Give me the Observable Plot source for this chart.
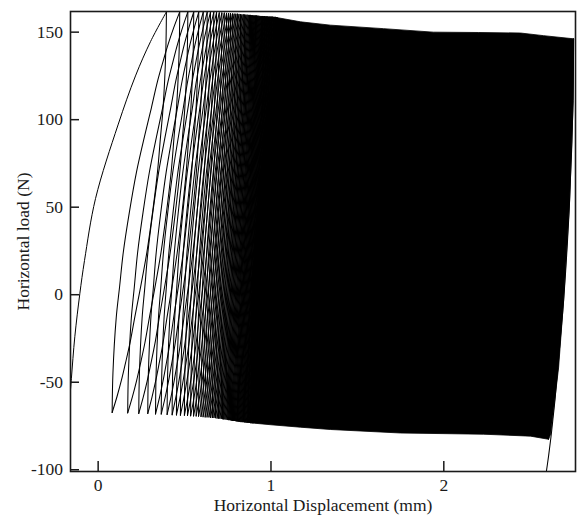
<!DOCTYPE html>
<html>
<head>
<meta charset="utf-8">
<script src="https://cdn.jsdelivr.net/npm/d3@7"></script>
<script src="https://cdn.jsdelivr.net/npm/@observablehq/plot@0.6"></script>
<style>
  html, body { margin: 0; padding: 0; background: #fff; }
  #chart { position: absolute; left: 0; top: 0; }
  #chart svg, #chart svg text {
    font-family: "Liberation Serif", "Times New Roman", "DejaVu Serif", serif !important;
  }
</style>
</head>
<body>
<div id="chart"></div>
<script>
// Cyclic horizontal load test: load (N) against displacement (mm).

// First monotonic loading, from the start of the test up to the first peak.
const initialDisp = [-0.166, -0.155, -0.135, -0.106, -0.079, -0.015, 0.115, 0.216, 0.303, 0.395];
const initialLoad = [-62, -48, -24, 0.6, 19.5, 55, 97, 125, 144.6, 161.6];

// Resolved cycles: displacement and load at each peak and at the following trough.
const peakDisp = [
  0.395, 0.472, 0.519, 0.553, 0.582, 0.608, 0.631, 0.650, 0.669, 0.685,
  0.701, 0.716, 0.730, 0.743, 0.755, 0.766, 0.777, 0.787, 0.797, 0.806,
  0.815, 0.824, 0.832, 0.840, 0.848, 0.855, 0.862, 0.869, 0.876, 0.882,
  0.888, 0.894, 0.900, 0.906, 0.911, 0.916, 0.921, 0.926, 0.931, 0.936,
  0.941, 0.946, 0.951, 0.955, 0.959, 0.963, 0.967, 0.971, 0.975, 0.979,
  0.983, 0.987, 0.991, 0.995, 0.999, 1.003, 1.007, 1.011, 1.015, 1.019,
  1.023, 1.027, 1.031, 1.035
];
const peakLoad = [
  161.6, 161.6, 161.6, 161.5, 161.5, 161.5, 161.4, 161.4, 161.3, 161.2,
  161.1, 161.0, 160.9, 160.8, 160.7, 160.6, 160.5, 160.4, 160.3, 160.3,
  160.2, 160.1, 160.0, 160.0, 159.9, 159.8, 159.8, 159.7, 159.6, 159.6,
  159.5, 159.5, 159.4, 159.4, 159.3, 159.3, 159.2, 159.2, 159.1, 159.1,
  159.0, 159.0, 159.0, 158.9, 158.9, 158.9, 158.8, 158.8, 158.8, 158.8,
  158.7, 158.7, 158.7, 158.7, 158.6, 158.6, 158.6, 158.6, 158.5, 158.5,
  158.5, 158.5, 158.4, 158.4
];
const troughDisp = [
  0.081, 0.171, 0.235, 0.287, 0.332, 0.365, 0.399, 0.428, 0.453, 0.476,
  0.499, 0.517, 0.535, 0.552, 0.567, 0.581, 0.595, 0.607, 0.619, 0.630,
  0.641, 0.651, 0.661, 0.670, 0.679, 0.688, 0.696, 0.704, 0.712, 0.719,
  0.726, 0.733, 0.740, 0.747, 0.753, 0.759, 0.765, 0.771, 0.777, 0.783,
  0.789, 0.795, 0.801, 0.806, 0.811, 0.816, 0.821, 0.826, 0.831, 0.836,
  0.841, 0.846, 0.851, 0.856, 0.861, 0.865, 0.869, 0.873, 0.877, 0.881,
  0.885, 0.889, 0.893, 0.897
];
const troughLoad = [
  -67.3, -67.5, -67.8, -67.9, -68.1, -68.2, -68.4, -68.6, -68.7, -68.8,
  -68.9, -69.0, -69.2, -69.3, -69.3, -69.4, -69.6, -69.7, -69.8, -69.8,
  -69.9, -70.1, -70.2, -70.2, -70.3, -70.5, -70.6, -70.6, -70.7, -70.9,
  -71.0, -71.0, -71.1, -71.3, -71.4, -71.4, -71.5, -71.7, -71.8, -71.8,
  -71.9, -72.0, -72.1, -72.2, -72.3, -72.4, -72.4, -72.5, -72.5, -72.6,
  -72.6, -72.7, -72.7, -72.8, -72.8, -72.9, -72.9, -73.0, -73.0, -73.1,
  -73.1, -73.2, -73.2, -73.3
];

// Branch shape of a half cycle (fraction of load change vs fraction of
// displacement change), taken from the first loading curve.
const shapeLoadFrac = [0, 0.1, 0.236, 0.314, 0.4, 0.5, 0.6, 0.694, 0.76, 0.827, 0.88, 0.92, 0.96, 1];
const shapeDispFrac = [0, 0.012, 0.06, 0.11, 0.165, 0.255, 0.36, 0.486, 0.58, 0.672, 0.76, 0.83, 0.91, 1];

// Outline of the region where the later cycles overlap completely.
const bandDisp = [1.030, 1.171, 1.344, 1.651, 1.940, 2.200, 2.444, 2.577, 2.751,
                  2.749, 2.728, 2.693, 2.664, 2.618, 2.606,
                  2.502, 2.230, 1.749, 1.344, 1.171, 1.000, 0.893,
                  0.885, 0.890, 0.925, 0.985];
const bandLoad = [158.4, 155.9, 154.0, 152.0, 150.0, 149.8, 149.5, 148.0, 146.2,
                  110.8, 53.4, -3.4, -41.8, -79.7, -82.6,
                  -80.8, -79.7, -79.0, -77.0, -75.7, -74.3, -73.3,
                  -40, 0, 53, 110.8];

// Last cycle: final reloading and the closing unloading.
const lastDisp = [2.606, 2.751, 2.592];
const lastLoad = [-82.6, 146.2, -102];

const xTicks = [0, 1, 2];
const yTicks = [150, 100, 50, 0, -50, -100];

// One half cycle between two turning points, following the half-cycle shape.
// Loading leaves the trough steeply; unloading leaves the peak steeply.
function branch(id, x0, y0, x1, y1, rising) {
  return shapeLoadFrac.map((u, k) => {
    const v = shapeDispFrac[k];
    return rising
      ? {id, disp: x0 + v * (x1 - x0), load: y0 + u * (y1 - y0)}
      : {id, disp: x0 - v * (x0 - x1), load: y0 - u * (y0 - y1)};
  });
}

const branches = [];
peakDisp.forEach((xp, i) => {
  if (i > 0) branches.push(...branch(`L${i}`, troughDisp[i - 1], troughLoad[i - 1], xp, peakLoad[i], true));
  branches.push(...branch(`U${i}`, xp, peakLoad[i], troughDisp[i], troughLoad[i], false));
});
branches.push(...branch("Llast", lastDisp[0], lastLoad[0], lastDisp[1], lastLoad[1], true));
branches.push(...branch("Ulast", lastDisp[1], lastLoad[1], lastDisp[2], lastLoad[2], false));

const initial = initialDisp.map((d, i) => ({disp: d, load: initialLoad[i]}));
const band = bandDisp.map((d, i) => ({disp: d, load: bandLoad[i]}));

const fmt = d => String(d);

const chart = Plot.plot({
  width: 577,
  height: 515,
  marginLeft: 70,
  marginRight: 2,
  marginTop: 11,
  marginBottom: 44,
  style: {
    fontFamily: "'Liberation Serif', 'Times New Roman', serif",
    fontSize: "17.5px",
    color: "#1a1a1a",
    background: "#fff"
  },
  x: {domain: [-0.16, 2.762]},
  y: {domain: [-101, 161.8]},
  marks: [
    Plot.line(band, {x: "disp", y: "load", fill: "black", stroke: "black", strokeWidth: 0.8, curve: "linear-closed", clip: true}),
    Plot.line(initial, {x: "disp", y: "load", stroke: "black", strokeWidth: 1, curve: "catmull-rom", clip: true}),
    Plot.line(branches, {x: "disp", y: "load", z: "id", stroke: "black", strokeWidth: 1.05, curve: "catmull-rom", clip: true}),
    Plot.frame({stroke: "#1a1a1a", strokeWidth: 1.6}),
    Plot.axisX({
      ticks: xTicks, tickSize: -10, tickPadding: 17, tickFormat: fmt, strokeWidth: 1.5,
      label: "Horizontal Displacement (mm)", labelAnchor: "center", labelOffset: 39, labelArrow: "none"
    }),
    Plot.axisY({
      ticks: yTicks, tickSize: -9, tickPadding: 16.5, tickFormat: fmt, strokeWidth: 1.5,
      label: "Horizontal load (N)", labelAnchor: "center", labelOffset: 54, labelArrow: "none"
    })
  ]
});

document.getElementById("chart").append(chart);
</script>
</body>
</html>
